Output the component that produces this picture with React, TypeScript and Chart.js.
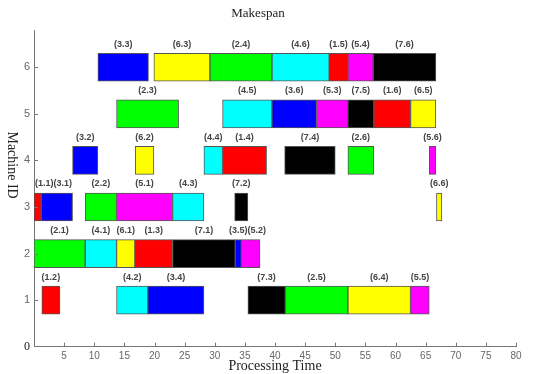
import React, { useEffect, useRef } from 'react';
import { Chart, registerables } from 'chart.js';
Chart.register(...registerables);

// job colours: job 1..7
const jobColors = ['#ff0000', '#00ff00', '#0000ff', '#00ffff', '#ff00ff', '#ffff00', '#000000'];

// operations: label (job.op), job, machine, start, end
const opLabels = [
  '(3.3)', '(6.3)', '(2.4)', '(4.6)', '(1.5)', '(5.4)', '(7.6)',
  '(2.3)', '(4.5)', '(3.6)', '(5.3)', '(7.5)', '(1.6)', '(6.5)',
  '(3.2)', '(6.2)', '(4.4)', '(1.4)', '(7.4)', '(2.6)', '(5.6)',
  '(1.1)', '(3.1)', '(2.2)', '(5.1)', '(4.3)', '(7.2)', '(6.6)',
  '(2.1)', '(4.1)', '(6.1)', '(1.3)', '(7.1)', '(3.5)', '(5.2)',
  '(1.2)', '(4.2)', '(3.4)', '(7.3)', '(2.5)', '(6.4)', '(5.5)',
];
const opJob = [
  3, 6, 2, 4, 1, 5, 7,
  2, 4, 3, 5, 7, 1, 6,
  3, 6, 4, 1, 7, 2, 5,
  1, 3, 2, 5, 4, 7, 6,
  2, 4, 6, 1, 7, 3, 5,
  1, 4, 3, 7, 2, 6, 5,
];
const opMachine = [
  6, 6, 6, 6, 6, 6, 6,
  5, 5, 5, 5, 5, 5, 5,
  4, 4, 4, 4, 4, 4, 4,
  3, 3, 3, 3, 3, 3, 3,
  2, 2, 2, 2, 2, 2, 2,
  1, 1, 1, 1, 1, 1, 1,
];
const opStart = [
  10.6, 19.9, 29.2, 39.5, 49.0, 52.1, 56.3,
  13.7, 31.3, 39.5, 46.9, 52.1, 56.4, 62.5,
  6.4, 16.8, 28.2, 31.3, 41.6, 52.1, 65.6,
  0.0, 1.2, 8.5, 13.7, 23.0, 33.3, 66.8,
  0.0, 8.5, 13.7, 16.75, 23.0, 33.4, 34.4,
  1.3, 13.7, 18.9, 35.5, 41.7, 52.1, 62.5,
];
const opEnd = [
  19.0, 29.2, 39.5, 49.0, 52.1, 56.3, 66.7,
  24.0, 39.5, 46.9, 52.1, 56.4, 62.5, 66.7,
  10.6, 19.9, 31.3, 38.6, 50.0, 56.4, 66.7,
  1.2, 6.4, 13.7, 23.0, 28.2, 35.5, 67.7,
  8.5, 13.7, 16.75, 23.0, 33.4, 34.4, 37.5,
  4.3, 18.9, 28.2, 41.7, 52.1, 62.5, 65.6,
];

const xMin = 0;
const xMax = 80;
const xStep = 5;
const yMin = 0;
const yMax = 6.8;
const yTickValues = [0, 1, 2, 3, 4, 5, 6];

const chartTitle = 'Makespan';
const xTitle = 'Processing Time';
const yTitle = 'Machine ID';

const SERIF = '"Liberation Serif", "Times New Roman", serif';
const SANS = '"Liberation Sans", Arial, sans-serif';

const barLabelPlugin = {
  id: 'barLabels',
  afterDatasetsDraw(chart: any) {
    const meta = chart.getDatasetMeta(0);
    const ctx = chart.ctx;
    ctx.save();
    ctx.font = 'bold 9px ' + SANS;
    ctx.fillStyle = '#444';
    ctx.textAlign = 'left';
    ctx.textBaseline = 'middle';
    const rows: Record<number, any[]> = {};
    meta.data.forEach((el: any, i: number) => {
      const p = el.getProps(['x', 'y', 'base', 'height'], true);
      const m = opMachine[i];
      (rows[m] = rows[m] || []).push({ i, left: Math.min(p.x, p.base), right: Math.max(p.x, p.base), y: p.y, h: p.height });
    });
    Object.keys(rows).forEach((k) => {
      const items = rows[+k].sort((a, b) => a.left - b.left);
      let prevRight = chart.chartArea.left + 1;
      items.forEach((it) => {
        const text = opLabels[it.i];
        const w = ctx.measureText(text).width;
        let lx = (it.left + it.right) / 2 - w / 2;
        if (lx < prevRight) lx = prevRight;
        ctx.fillText(text, lx, it.y - it.h / 2 - 9);
        prevRight = lx + w;
      });
    });
    ctx.restore();
  },
};

const axisDecorPlugin = {
  id: 'axisDecor',
  afterDraw(chart: any) {
    const ctx = chart.ctx;
    const xs = chart.scales.x;
    const ys = chart.scales.y;
    const area = chart.chartArea;
    ctx.save();
    ctx.strokeStyle = '#777';
    ctx.lineWidth = 1;
    ctx.beginPath();
    for (let v = xMin + xStep; v <= xMax; v += xStep) {
      const px = Math.round(xs.getPixelForValue(v)) + 0.5;
      ctx.moveTo(px, area.bottom);
      ctx.lineTo(px, area.bottom - 4);
    }
    yTickValues.forEach((v) => {
      if (v === 0) return;
      const py = Math.round(ys.getPixelForValue(v)) + 0.5;
      ctx.moveTo(area.left, py);
      ctx.lineTo(area.left + 4, py);
    });
    ctx.stroke();
    // y axis title
    ctx.fillStyle = '#222';
    ctx.font = '14px ' + SERIF;
    ctx.textAlign = 'center';
    ctx.textBaseline = 'middle';
    ctx.translate(12, ys.getPixelForValue(3.9));
    ctx.rotate(Math.PI / 2);
    ctx.fillText(yTitle, 0, 0);
    ctx.restore();
  },
};

export default function App() {
  const ref = useRef<HTMLCanvasElement | null>(null);
  useEffect(() => {
    if (!ref.current) return;
    const data = opLabels.map((_, i) => ({ x: [opStart[i], opEnd[i]], y: opMachine[i] }));
    const chart = new Chart(ref.current, {
      type: 'bar',
      data: {
        datasets: [
          {
            data: data as any,
            backgroundColor: opJob.map((j) => jobColors[j - 1]),
            borderColor: '#555',
            borderWidth: 1,
            borderSkipped: false,
            barThickness: 28,
            grouped: false,
          } as any,
        ],
      },
      options: {
        animation: false,
        responsive: false,
        indexAxis: 'y',
        layout: { padding: { left: 0, right: 26, top: 0, bottom: 0 } },
        plugins: {
          legend: { display: false },
          tooltip: { enabled: false },
          title: {
            display: true,
            text: chartTitle,
            color: '#222',
            font: { family: SERIF, size: 13, weight: 'normal', lineHeight: 1.2 },
            padding: { top: 6, bottom: 8.4 },
          },
        },
        scales: {
          x: {
            type: 'linear',
            min: xMin,
            max: xMax,
            offset: false,
            grid: { display: false, drawTicks: false },
            border: { display: true, color: '#777', width: 1 },
            ticks: {
              stepSize: xStep,
              padding: 4,
              color: '#666',
              font: { family: SANS, size: 10 },
              maxRotation: 0,
              autoSkip: false,
              callback: (v: any) => (v === 0 ? '' : String(v)),
            },
            title: {
              display: true,
              text: xTitle,
              color: '#222',
              font: { family: SERIF, size: 14, lineHeight: 1.2 },
              padding: { top: 0, bottom: -1 },
            },
            afterFit: (s: any) => {
              s.height = 27.3;
            },
          },
          y: {
            type: 'linear',
            min: yMin,
            max: yMax,
            offset: false,
            grid: { display: false, drawTicks: false },
            border: { display: true, color: '#777', width: 1 },
            afterBuildTicks: (s: any) => {
              s.ticks = yTickValues.map((v) => ({ value: v }));
            },
            ticks: {
              padding: 4,
              color: (c: any) => (c.tick && c.tick.value === 0 ? '#222' : '#666'),
              font: (c: any) =>
                c.tick && c.tick.value === 0
                  ? { family: SERIF, size: 12 }
                  : { family: SANS, size: 11 },
              callback: (v: any) => String(v),
            },
            afterFit: (s: any) => {
              s.width = 34;
            },
          },
        },
      },
      plugins: [barLabelPlugin, axisDecorPlugin],
    } as any);
    return () => chart.destroy();
  }, []);
  return (
    <div style={{ position: 'absolute', left: 0, top: 0, width: 542, height: 374, background: '#fff' }}>
      <canvas ref={ref} width={542} height={374} />
    </div>
  );
}
